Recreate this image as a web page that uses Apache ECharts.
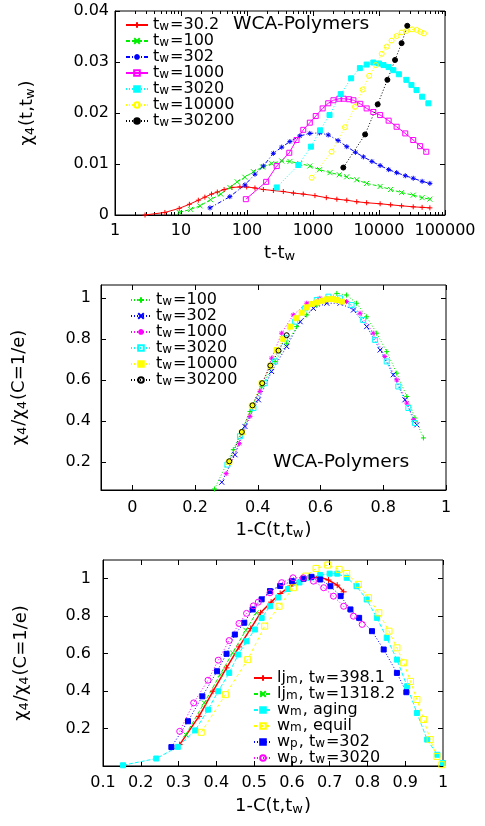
<!DOCTYPE html>
<html>
<head>
<meta charset="utf-8">
<script src="https://cdn.jsdelivr.net/npm/echarts@6/dist/echarts.min.js"></script>
<style>
  html, body { margin: 0; background: #fff; }
  #chart { width: 485px; height: 826px; }
</style>
</head>
<body>
<div id="chart"></div>
<script>
// ---- panel 1 : chi4(t,tw) vs t-tw (log x) ----
const p1Names = ['a:t_w=30.2', 'a:t_w=100', 'a:t_w=302', 'a:t_w=1000', 'a:t_w=3020', 'a:t_w=10000', 'a:t_w=30200'];
const p1Tw30 = [[2.85,0],[5.7,0.0005],[9.4,0.0013],[13.4,0.0021],[18.3,0.0029],[23,0.0035],[29,0.0041],[35.5,0.0045],[45,0.0050],[59,0.0054],[78,0.0055],[99,0.0055],[132,0.0053],[177,0.0050],[251,0.0048],[355,0.0046],[505,0.0043],[712,0.0041],[1070,0.0038],[1590,0.0034],[2300,0.0031],[3250,0.0029],[4600,0.0026],[6500,0.0024],[10400,0.0022],[15000,0.0020],[22000,0.0018],[33000,0.0016],[45000,0.0015],[59000,0.0014]];
const p1Tw100 = [[9.4,0.0005],[14,0.0011],[19.4,0.0018],[28,0.0030],[40,0.0041],[55,0.0054],[71,0.0065],[93,0.0074],[125,0.0085],[173,0.0094],[237,0.0101],[336,0.0106],[447,0.0105],[630,0.0101],[895,0.0096],[1260,0.0089],[1810,0.0083],[2500,0.0079],[3250,0.0075],[4600,0.0069],[6500,0.0062],[10400,0.0056],[15000,0.0050],[22000,0.0044],[33000,0.0039],[45000,0.0034],[59000,0.0031]];
const p1Tw302 = [[27.5,0.0014],[55,0.0036],[93,0.0059],[132,0.0080],[177,0.0096],[251,0.0121],[336,0.0133],[447,0.0144],[630,0.0155],[895,0.0160],[1260,0.0161],[1700,0.0157],[2400,0.0146],[3250,0.0134],[4400,0.0123],[5800,0.0114],[7800,0.0105],[10400,0.0097],[14000,0.0089],[18500,0.0083],[25000,0.0077],[33000,0.0072],[45000,0.0066],[59000,0.0062]];
const p1Tw1000 = [[96,0.0031],[195,0.0065],[282,0.0096],[437,0.0122],[562,0.0147],[712,0.0167],[895,0.0181],[1100,0.0194],[1400,0.0209],[1700,0.0219],[2040,0.0225],[2500,0.0228],[2900,0.0228],[3500,0.0227],[4100,0.0225],[5200,0.0218],[6500,0.0209],[8200,0.0202],[10400,0.0196],[14000,0.0185],[18500,0.0173],[25000,0.0160],[33000,0.0147],[42000,0.0135],[52000,0.0124]];
const p1Tw3020 = [[282,0.0054],[600,0.0098],[930,0.0134],[1280,0.0166],[1780,0.0196],[2630,0.0237],[3780,0.0268],[5130,0.0288],[6500,0.0295],[8200,0.0299],[10000,0.0297],[11700,0.0294],[14000,0.0290],[16500,0.0284],[20000,0.0276],[26000,0.0265],[31000,0.0255],[37000,0.0245],[45000,0.0232],[56000,0.0219]];
const p1Tw10000 = [[955,0.0073],[1910,0.0124],[3040,0.0172],[4330,0.0212],[5660,0.0246],[7100,0.0273],[8950,0.0294],[11000,0.0316],[13100,0.0330],[15500,0.0342],[18500,0.0351],[22000,0.0358],[26000,0.0361],[31500,0.0364],[37000,0.0363],[42500,0.0359],[48000,0.0356]];
const p1Tw30200 = [[2880,0.0093],[6160,0.0158],[9550,0.0217],[13400,0.0265],[17500,0.0304],[22000,0.0337],[26800,0.0371]];
const p1XMinor = [2,3,4,5,6,7,8,9,20,30,40,50,60,70,80,90,200,300,400,500,600,700,800,900,2000,3000,4000,5000,6000,7000,8000,9000,20000,30000,40000,50000,60000,70000,80000,90000];

// ---- panel 2 : chi4/chi4(C=1/e) vs 1-C, WCA polymers ----
const p2Names = ['b:t_w=100', 'b:t_w=302', 'b:t_w=1000', 'b:t_w=3020', 'b:t_w=10000', 'b:t_w=30200'];
const p2Tw100 = [[0.262,0.07],[0.322,0.262],[0.375,0.448],[0.412,0.568],[0.455,0.692],[0.492,0.781],[0.524,0.862],[0.556,0.919],[0.588,0.967],[0.62,1.0],[0.652,1.024],[0.683,1.016],[0.715,0.976],[0.747,0.91],[0.779,0.83],[0.811,0.74],[0.843,0.635],[0.875,0.521],[0.901,0.416],[0.928,0.319]];
const p2Tw302 = [[0.285,0.103],[0.327,0.237],[0.359,0.375],[0.402,0.505],[0.444,0.643],[0.492,0.765],[0.535,0.886],[0.577,0.951],[0.62,0.976],[0.662,0.976],[0.705,0.943],[0.747,0.862],[0.79,0.748],[0.832,0.627],[0.869,0.505],[0.907,0.383]];
const p2Tw1000 = [[0.299,0.145],[0.341,0.291],[0.375,0.424],[0.407,0.546],[0.444,0.708],[0.476,0.83],[0.513,0.919],[0.556,0.976],[0.598,1.0],[0.641,1.0],[0.683,0.984],[0.726,0.927],[0.768,0.83],[0.805,0.716],[0.843,0.602],[0.875,0.489],[0.896,0.408]];
const p2Tw3020 = [[0.303,0.189],[0.343,0.327],[0.386,0.465],[0.422,0.586],[0.455,0.692],[0.487,0.805],[0.519,0.886],[0.551,0.951],[0.588,0.992],[0.625,1.008],[0.662,1.0],[0.699,0.967],[0.736,0.894],[0.774,0.797],[0.811,0.692],[0.848,0.57],[0.88,0.465],[0.901,0.392]];
const p2Tw10000 = [[0.309,0.202],[0.349,0.346],[0.381,0.476],[0.412,0.586],[0.439,0.671],[0.46,0.748],[0.481,0.802],[0.503,0.862],[0.522,0.903],[0.54,0.93],[0.556,0.956],[0.572,0.972],[0.588,0.98],[0.604,0.988],[0.62,0.995],[0.636,0.997],[0.652,0.992],[0.668,0.984]];
const p2Tw30200 = [[0.309,0.205],[0.349,0.348],[0.383,0.478],[0.414,0.586],[0.44,0.672],[0.466,0.745],[0.492,0.82]];
const p2XTicks = [0, 0.2, 0.4, 0.6, 0.8, 1];
const p2YTicks = [0.2, 0.4, 0.6, 0.8, 1];

// ---- panel 3 : comparison ----
const p3Names = ['c:lj_m, t_w=398.1', 'c:lj_m, t_w=1318.2', 'c:w_m, aging', 'c:w_m, equil', 'c:w_p, t_w=302', 'c:w_p, t_w=3020'];
const p3Lj398 = [[0.303,0.114],[0.354,0.265],[0.391,0.399],[0.427,0.524],[0.46,0.636],[0.491,0.734],[0.517,0.818],[0.545,0.875],[0.569,0.921],[0.596,0.961],[0.622,0.99],[0.649,1.005],[0.672,1.01],[0.697,0.993],[0.72,0.966],[0.737,0.93]];
const p3Lj1318 = [[0.319,0.167],[0.368,0.337],[0.41,0.488],[0.443,0.604],[0.478,0.725],[0.506,0.818]];
const p3WmAging = [[0.153,0.004],[0.241,0.04],[0.298,0.102],[0.344,0.19],[0.378,0.301],[0.405,0.399],[0.434,0.497],[0.458,0.595],[0.48,0.666],[0.502,0.729],[0.52,0.79],[0.542,0.853],[0.564,0.9],[0.59,0.945],[0.62,0.98],[0.648,1.005],[0.675,1.02],[0.7,1.027],[0.72,1.027],[0.745,1.005],[0.771,0.96],[0.798,0.889],[0.825,0.791],[0.851,0.684],[0.878,0.568],[0.905,0.426],[0.931,0.283],[0.958,0.141],[0.985,0.06],[1.0,0.016]];
const p3WmEquil = [[0.36,0.18],[0.424,0.381],[0.483,0.568],[0.528,0.747],[0.566,0.853],[0.604,0.952],[0.637,1.014],[0.664,1.055],[0.695,1.073],[0.725,1.05],[0.745,1.028],[0.776,0.97],[0.803,0.898],[0.83,0.818],[0.857,0.72],[0.878,0.631],[0.896,0.551],[0.914,0.452],[0.931,0.355],[0.949,0.248],[0.966,0.141],[0.984,0.051],[0.997,0.007]];
const p3Wp302 = [[0.281,0.101],[0.325,0.239],[0.363,0.372],[0.402,0.506],[0.427,0.599],[0.449,0.702],[0.474,0.765],[0.496,0.836],[0.52,0.89],[0.542,0.934],[0.569,0.961],[0.6,0.987],[0.631,1.0],[0.652,1.01],[0.675,0.996],[0.702,0.96],[0.729,0.907],[0.755,0.836],[0.778,0.791],[0.812,0.72],[0.843,0.622],[0.878,0.497],[0.903,0.394]];
const p3Wp3020 = [[0.303,0.185],[0.34,0.337],[0.378,0.458],[0.405,0.565],[0.434,0.67],[0.46,0.761],[0.48,0.815],[0.498,0.855],[0.511,0.875],[0.542,0.925],[0.573,0.979],[0.603,1.005],[0.63,1.005],[0.657,0.987],[0.684,0.952],[0.71,0.907],[0.737,0.853],[0.763,0.8],[0.786,0.756]];
const p3YTicks = [0.2, 0.4, 0.6, 0.8, 1];

const TICK_FONT = 'DejaVu Sans';
const TXT_FONT = 'DejaVu Sans';

// gnuplot point types
const PLUS = 'path://M0,5L10,5M5,0L5,10';
const CROSS = 'path://M1,1L9,9M9,1L1,9';
const STAR = 'path://M0,5L10,5M5,0L5,10M1.5,1.5L8.5,8.5M8.5,1.5L1.5,8.5';

// "t_w=30.2" -> rich text with subscripts
function sub(s) {
  return s.split(/_(.)/).map((p, i) => p === '' ? '' : (i % 2 ? '{s|' + p + '}' : '{n|' + p + '}')).join('');
}
function rich(fs, lh) {
  return {
    n: { fontSize: fs, lineHeight: lh, fontFamily: TXT_FONT, color: '#000', verticalAlign: 'middle' },
    s: { fontSize: Math.round(fs * 0.72), lineHeight: 2, fontFamily: TXT_FONT, color: '#000', verticalAlign: 'bottom', padding: [0, 1, 0, 0] }
  };
}

// hollow = open marker drawn with a 1px outline
function ser(name, data, gi, color, symbol, size, lineType, width, hollow) {
  return {
    name: name, type: 'line', data: data,
    xAxisIndex: gi * 2, yAxisIndex: gi * 2,
    symbol: symbol, symbolSize: size, showSymbol: true,
    lineStyle: { color: color, width: width || 1, type: lineType },
    itemStyle: { color: hollow ? 'rgba(255,255,255,0)' : color, borderColor: color, borderWidth: 1 },
    emphasis: { disabled: true },
    z: 3
  };
}

function tickStyle(len) {
  return { show: true, inside: true, length: len, lineStyle: { color: '#000', width: 1 } };
}
function labelStyle(margin, extra) {
  return Object.assign({ color: '#000', fontSize: 16, fontFamily: TICK_FONT, margin: margin }, extra || {});
}

function xPair(gi, base, labelMargin, name, nameGap) {
  const bottom = Object.assign({
    gridIndex: gi, position: 'bottom',
    axisLine: { show: true, onZero: false, lineStyle: { color: '#000' } },
    splitLine: { show: false },
    name: sub(name), nameLocation: 'middle', nameGap: nameGap,
    nameTextStyle: { rich: rich(18, 20) }
  }, base, {
    axisLabel: labelStyle(labelMargin, base.axisLabel),
    axisTick: Object.assign(tickStyle(5), base.axisTick || {})
  });
  const top = Object.assign({}, base, {
    gridIndex: gi, position: 'top',
    axisLine: { show: false, onZero: false },
    axisTick: Object.assign(tickStyle(5), base.axisTick || {}),
    axisLabel: { show: false }, splitLine: { show: false }
  });
  return [bottom, top];
}

function yPair(gi, base, labelMargin, name, nameGap) {
  const left = Object.assign({
    gridIndex: gi, position: 'left',
    axisLine: { show: true, onZero: false, lineStyle: { color: '#000' } },
    splitLine: { show: false },
    name: sub(name), nameLocation: 'middle', nameGap: nameGap, nameRotate: 90,
    nameTextStyle: { rich: rich(18, 20) }
  }, base, {
    axisLabel: labelStyle(labelMargin, base.axisLabel),
    axisTick: Object.assign(tickStyle(5), base.axisTick || {})
  });
  const right = Object.assign({}, base, {
    gridIndex: gi, position: 'right',
    axisLine: { show: false, onZero: false },
    axisTick: Object.assign(tickStyle(5), base.axisTick || {}),
    axisLabel: { show: false }, splitLine: { show: false }
  });
  return [left, right];
}

const x1 = xPair(0, { type: 'log', logBase: 10, min: 1, max: 100000,
  axisLabel: { formatter: v => String(Math.round(v)) } }, 8, 't-t_w', 28);
const y1 = yPair(0, { type: 'value', min: 0, max: 0.04, interval: 0.01 }, 6, 'χ_4(t,t_w)', 78);

const x2 = xPair(1, { type: 'value', min: -0.1, max: 1,
  axisLabel: { customValues: p2XTicks }, axisTick: { customValues: p2XTicks } }, 10, '1-C(t,t_w)', 30);
const y2 = yPair(1, { type: 'value', min: 0.065, max: 1.065,
  axisLabel: { customValues: p2YTicks }, axisTick: { customValues: p2YTicks } }, 10, 'χ_4/χ_4(C=1/e)', 72);

const x3 = xPair(2, { type: 'value', min: 0.1, max: 1, interval: 0.1 }, 9, '1-C(t,t_w)', 30);
const y3 = yPair(2, { type: 'value', min: 0, max: 1.1,
  axisLabel: { customValues: p3YTicks }, axisTick: { customValues: p3YTicks } }, 12, 'χ_4/χ_4(C=1/e)', 72);

// extra log axes carrying the short minor ticks of panel 1 (bottom and top)
function minorAxis(pos) {
  return { gridIndex: 0, type: 'log', logBase: 10, min: 1, max: 100000, position: pos,
    axisLine: { show: false, onZero: false }, axisLabel: { show: false }, splitLine: { show: false },
    axisTick: { show: true, inside: true, length: 3, customValues: p1XMinor, lineStyle: { color: '#000' } } };
}

const legendBase = {
  orient: 'vertical', itemHeight: 7, itemGap: 0,
  formatter: name => sub(name.slice(2)),
  textStyle: { rich: rich(16, 16) },
  selectedMode: false
};

const chart = echarts.init(document.getElementById('chart'), null, { renderer: 'canvas' });
chart.setOption({
  animation: false,
  backgroundColor: '#fff',
  grid: [
    { left: 115, top: 11, width: 330, height: 204, show: true, borderColor: '#000', borderWidth: 1 },
    { left: 101, top: 285, width: 345, height: 205, show: true, borderColor: '#000', borderWidth: 1 },
    { left: 103, top: 560, width: 340, height: 206, show: true, borderColor: '#000', borderWidth: 1 }
  ],
  xAxis: [...x1, ...x2, ...x3, minorAxis('bottom'), minorAxis('top')],
  yAxis: [...y1, ...y2, ...y3],
  legend: [
    Object.assign({ left: 120, top: 12, itemWidth: 22, data: p1Names }, legendBase),
    Object.assign({ left: 125, top: 287, itemWidth: 20, data: p2Names }, legendBase),
    Object.assign({ left: 248, top: 665, itemWidth: 18, data: p3Names }, legendBase)
  ],
  graphic: [
    { type: 'text', left: 233, top: 16, scaleX: 1.1, style: { text: 'WCA-Polymers', fontSize: 17, fontFamily: TXT_FONT, fill: '#000' } },
    { type: 'text', left: 273, top: 454, scaleX: 1.1, style: { text: 'WCA-Polymers', fontSize: 17, fontFamily: TXT_FONT, fill: '#000' } }
  ],
  series: [
    ser(p1Names[0], p1Tw30, 0, '#ff0000', PLUS, 5, 'solid'),
    ser(p1Names[1], p1Tw100, 0, '#00ee00', CROSS, 5, [4, 2]),
    ser(p1Names[2], p1Tw302, 0, '#0000ff', STAR, 5, [4, 2, 1, 2]),
    ser(p1Names[3], p1Tw1000, 0, '#ff00ff', 'rect', 5, 'solid', 1, true),
    ser(p1Names[4], p1Tw3020, 0, '#00ffff', 'rect', 5, [1, 2]),
    ser(p1Names[5], p1Tw10000, 0, '#ffff00', 'circle', 5, [1, 2], 1, true),
    ser(p1Names[6], p1Tw30200, 0, '#000000', 'circle', 5, [1, 2]),

    ser(p2Names[0], p2Tw100, 1, '#00ee00', PLUS, 5, [1, 2]),
    ser(p2Names[1], p2Tw302, 1, '#0000ff', CROSS, 5, [1, 2]),
    ser(p2Names[2], p2Tw1000, 1, '#ff00ff', STAR, 5, [1, 2]),
    ser(p2Names[3], p2Tw3020, 1, '#00ffff', 'rect', 5, [1, 2], 1, true),
    ser(p2Names[4], p2Tw10000, 1, '#ffff00', 'rect', 5, [1, 2]),
    ser(p2Names[5], p2Tw30200, 1, '#000000', 'circle', 5, [1, 2], 1, true),

    ser(p3Names[0], p3Lj398, 2, '#ff0000', PLUS, 6, 'solid', 1.5),
    ser(p3Names[1], p3Lj1318, 2, '#00ee00', CROSS, 5, [4, 2]),
    ser(p3Names[2], p3WmAging, 2, '#00ffff', 'rect', 5, [4, 2]),
    ser(p3Names[3], p3WmEquil, 2, '#ffff00', 'rect', 6, [3, 3], 1, true),
    ser(p3Names[4], p3Wp302, 2, '#0000ff', 'rect', 5, [1, 2]),
    ser(p3Names[5], p3Wp3020, 2, '#ff00ff', 'circle', 6, [1, 2], 1, true)
  ]
});
</script>
</body>
</html>
